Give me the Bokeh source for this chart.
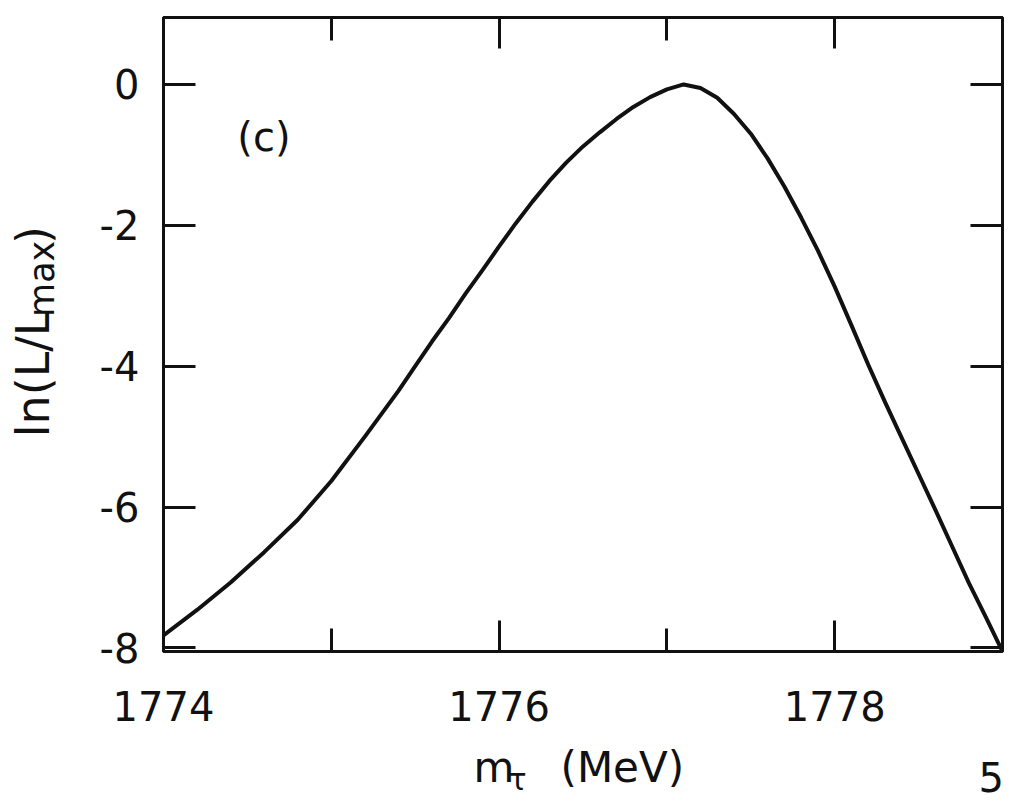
import math
from bokeh.plotting import figure
from bokeh.layouts import row, column
from bokeh.models import Range1d, LinearAxis, FixedTicker, Label
from bokeh.embed import file_html
from bokeh.resources import INLINE

# Data
mass_mev = [1774.0, 1774.2, 1774.4, 1774.6, 1774.8, 1775.0, 1775.2, 1775.4,
            1775.5, 1775.6, 1775.7, 1775.8, 1775.9, 1776.0, 1776.1, 1776.2,
            1776.3, 1776.4, 1776.5, 1776.6, 1776.7, 1776.8, 1776.9, 1777.0,
            1777.1, 1777.2, 1777.3, 1777.4, 1777.5, 1777.6, 1777.7, 1777.8,
            1777.9, 1778.0, 1778.1, 1778.2, 1778.3, 1778.4, 1778.5, 1778.6,
            1778.7, 1778.8, 1778.9, 1779.0]
ln_l_over_lmax = [-7.82, -7.46, -7.07, -6.64, -6.18, -5.63, -5.00, -4.35,
                  -4.00, -3.65, -3.32, -2.97, -2.64, -2.30, -1.97, -1.66,
                  -1.37, -1.11, -0.88, -0.68, -0.49, -0.32, -0.18, -0.07,
                  0.00, -0.05, -0.19, -0.42, -0.70, -1.05, -1.45, -1.89,
                  -2.36, -2.87, -3.42, -3.98, -4.51, -5.02, -5.53, -6.04,
                  -6.56, -7.08, -7.56, -8.05]

x_major_ticks = [1774, 1776, 1778]
x_minor_ticks = [1775, 1777]
y_major_ticks = [0, -2, -4, -6, -8]
y_tick_labels = ["0", "-2", "-4", "-6", "-8"]
panel_label = "(c)"
page_number = "5"

FONT = "DejaVu Sans"
INK = "#111111"
TOTAL_W, TOTAL_H = 1010, 796
LEFT_W = 60
MAIN_H = 740

# ---------------- main plot ----------------
p = figure(width=TOTAL_W - LEFT_W, height=MAIN_H, output_backend="svg",
           toolbar_location=None,
           x_range=Range1d(1774, 1779), y_range=Range1d(-8.05, 0.95),
           min_border_left=163 - LEFT_W, min_border_right=8, min_border_top=17,
           min_border_bottom=MAIN_H - 651)
p.background_fill_color = "white"
p.border_fill_color = "white"
p.xgrid.visible = False
p.ygrid.visible = False
p.outline_line_color = INK
p.outline_line_width = 3

xt = FixedTicker(ticks=x_major_ticks, minor_ticks=x_minor_ticks)
yt = FixedTicker(ticks=y_major_ticks, minor_ticks=[])


def style_axis(ax, ticker, labels=True):
    ax.ticker = ticker
    ax.axis_line_color = INK
    ax.axis_line_width = 3
    ax.major_tick_line_color = INK
    ax.major_tick_line_width = 3
    ax.minor_tick_line_color = INK
    ax.minor_tick_line_width = 3
    ax.major_tick_out = 0
    ax.minor_tick_out = 0
    ax.major_label_text_font = FONT
    ax.major_label_text_color = INK
    ax.major_label_text_font_size = "40px"
    if not labels:
        ax.major_label_overrides = {t: "" for t in ticker.ticks}
        ax.major_label_standoff = 0


bx = p.xaxis[0]
style_axis(bx, xt)
bx.major_tick_in = 31
bx.minor_tick_in = 23
bx.major_label_standoff = 39

ly = p.yaxis[0]
style_axis(ly, yt)
ly.major_tick_in = 32
ly.major_label_standoff = 24
ly.major_label_overrides = dict(zip(y_major_ticks, y_tick_labels))

tx = LinearAxis()
style_axis(tx, xt, labels=False)
tx.major_tick_in = 31
tx.minor_tick_in = 23
p.add_layout(tx, "above")

ry = LinearAxis()
style_axis(ry, yt, labels=False)
ry.major_tick_in = 32
p.add_layout(ry, "right")

p.line(mass_mev, ln_l_over_lmax, line_color=INK, line_width=4,
       line_join="round", line_cap="round")

p.add_layout(Label(x=1774.44, y=-0.74, text=panel_label, text_font=FONT,
                   text_font_size="40px", text_color=INK,
                   text_baseline="middle", text_align="left"))

# ---------------- left strip: y-axis title ln(L/L_max) ----------------
fl = figure(width=LEFT_W, height=MAIN_H, output_backend="svg",
            toolbar_location=None, x_axis_type=None, y_axis_type=None,
            x_range=Range1d(0, LEFT_W), y_range=Range1d(MAIN_H, 0),
            min_border=0, outline_line_color=None)
fl.xgrid.visible = False
fl.ygrid.visible = False
yl_parts = [("ln(L/L", 32, 416, "46px"), ("max", 41, 305, "35px"),
            (")", 32, 254, "46px")]
for txt, lx, lyy, fs in yl_parts:
    fl.add_layout(Label(x=lx, y=lyy, text=txt, angle=math.pi / 2,
                        text_font=FONT, text_font_size=fs, text_color=INK,
                        text_align="center", text_baseline="middle"))

# ---------------- bottom strip: x-axis title m_tau (MeV) ----------------
BOT_H = TOTAL_H - MAIN_H
fb = figure(width=TOTAL_W, height=BOT_H, output_backend="svg",
            toolbar_location=None, x_axis_type=None, y_axis_type=None,
            x_range=Range1d(0, TOTAL_W), y_range=Range1d(TOTAL_H, MAIN_H),
            min_border=0, outline_line_color=None)
fb.xgrid.visible = False
fb.ygrid.visible = False
xl_parts = [("m", 473, 767, "42px"), ("τ", 508, 779, "30px"),
            ("(MeV)", 560, 767, "42px")]
for txt, lx, lyy, fs in xl_parts:
    fb.add_layout(Label(x=lx, y=lyy, text=txt, text_font=FONT,
                        text_font_size=fs, text_color=INK,
                        text_align="left", text_baseline="alphabetic"))
fb.add_layout(Label(x=978, y=776, text=page_number, text_font=FONT,
                    text_font_size="40px", text_color=INK,
                    text_align="left", text_baseline="alphabetic"))

layout = column(row(fl, p, spacing=0), fb, spacing=0)
open("out.html", "w").write(file_html(layout, INLINE))
